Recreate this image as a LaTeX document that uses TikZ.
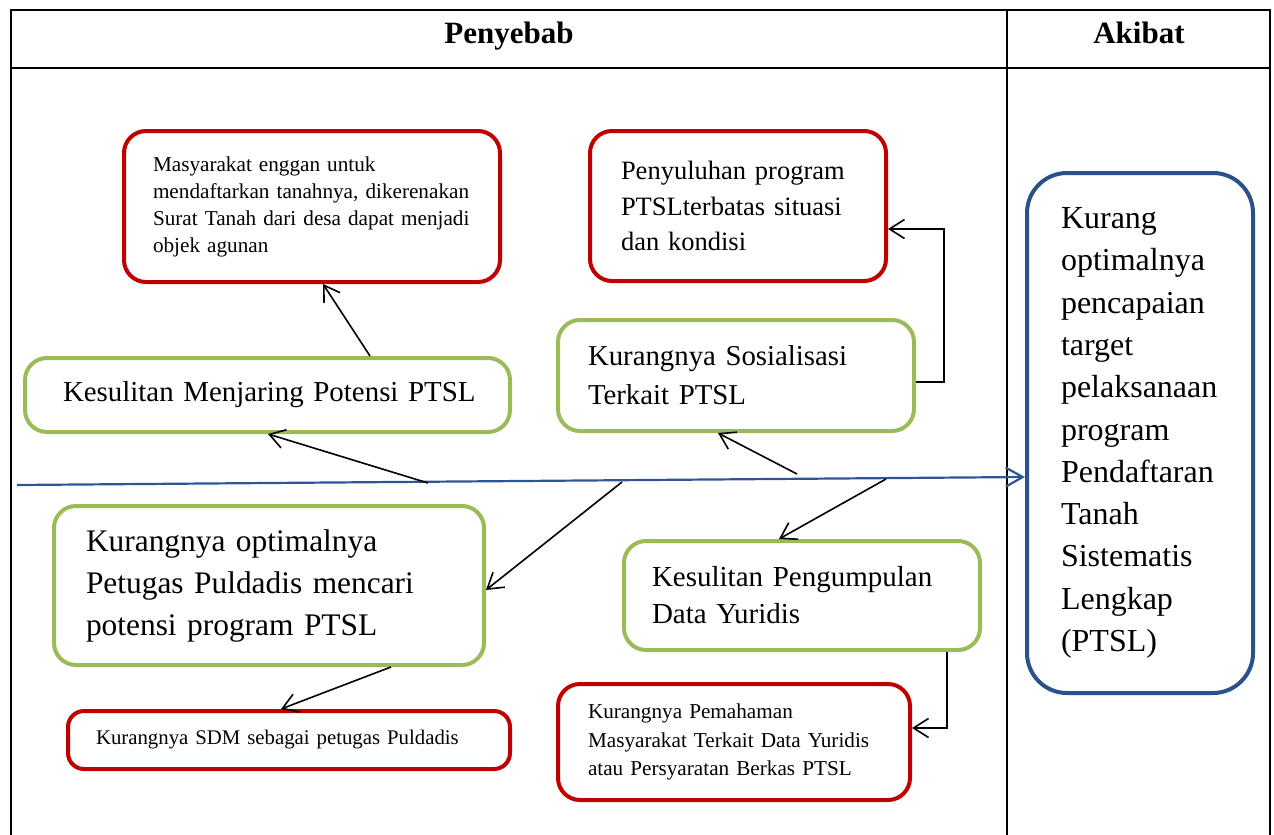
\documentclass[tikz,border=0pt]{standalone}
\usepackage{fontspec}
\setmainfont{Liberation Serif}
\usetikzlibrary{arrows.meta,calc}
\definecolor{cred}{HTML}{C00000}
\definecolor{cgreen}{HTML}{9BBB59}
\definecolor{cblue}{HTML}{2A5189}
\definecolor{cline}{HTML}{2F5597}
\tikzset{
  box/.style={draw, rounded corners=22pt, line width=4pt, align=left, anchor=center, inner ysep=0pt},
  redbox/.style={box, draw=cred},
  greenbox/.style={box, draw=cgreen},
  bluebox/.style={box, draw=cblue, rounded corners=40pt},
  arr/.style={draw=black, line width=1.6pt, -{Straight Barb[length=15pt,width=19pt]}},
  mainarr/.style={draw=cline, line width=2.2pt, -{Straight Barb[length=17pt,width=19pt]}},
  frame/.style={line width=2pt, draw=black},
  head/.style={font=\bfseries\fontsize{31}{31}\selectfont, anchor=base, inner sep=0pt}
}
\begin{document}
\begin{tikzpicture}[x=1pt,y=-1pt]
\useasboundingbox (0,0) rectangle (1274,835);
% table frame
\draw[frame] (11,845) -- (11,10) -- (1270,10) -- (1270,845);
\draw[frame] (11,68) -- (1270,68);
\draw[frame] (1007,10) -- (1007,845);
\node[head] (h1) at (509,43) {Penyebab};
\node[head] (h2) at (1139,43) {Akibat};

% boxes
\node[redbox, minimum height=151pt, text width=318pt, inner xsep=29pt,
  font=\fontsize{21.2}{27}\selectfont] (m1) at (312,206.5)
  {\mbox{Masyarakat enggan untuk}\\ \mbox{mendaftarkan tanahnya, dikerenakan}\\ \mbox{Surat Tanah dari desa dapat menjadi}\\ \mbox{objek agunan}};
\node[redbox, minimum height=150pt, text width=234pt, inner xsep=31pt,
  font=\fontsize{26.5}{35.5}\selectfont] (p2) at (738,206)
  {\mbox{Penyuluhan program}\\ \mbox{PTSLterbatas situasi}\\ \mbox{dan kondisi}};
\node[greenbox, align=center, minimum height=74pt, text width=409pt, inner xsep=38pt,
  font=\fontsize{28.9}{36}\selectfont] (k3) at (267.5,395)
  {\mbox{Kesulitan Menjaring Potensi PTSL}};
\node[greenbox, minimum height=111pt, text width=296pt, inner xsep=30pt,
  font=\fontsize{28.8}{39}\selectfont] (k4) at (736,375.5)
  {\mbox{Kurangnya Sosialisasi}\\ \mbox{Terkait PTSL}};
\node[greenbox, minimum height=159pt, text width=366pt, inner xsep=32pt,
  font=\fontsize{31.4}{42}\selectfont] (k5) at (269,585.5)
  {\mbox{Kurangnya optimalnya}\\ \mbox{Petugas Puldadis mencari}\\ \mbox{potensi program PTSL}};
\node[greenbox, minimum height=109pt, text width=300pt, inner xsep=28pt,
  font=\fontsize{29}{37}\selectfont] (k6) at (802,595.5)
  {\mbox{Kesulitan Pengumpulan}\\ \mbox{Data Yuridis}};
\node[redbox, rounded corners=16pt, minimum height=58pt, text width=386pt, inner xsep=28pt,
  font=\fontsize{20.8}{27}\selectfont] (r7) at (289,740)
  {\mbox{Kurangnya SDM sebagai petugas Puldadis}};
\node[redbox, minimum height=116pt, text width=292pt, inner xsep=30pt,
  font=\fontsize{21.2}{28.5}\selectfont] (r8) at (734,742)
  {\mbox{Kurangnya Pemahaman}\\ \mbox{Masyarakat Terkait Data Yuridis}\\ \mbox{atau Persyaratan Berkas PTSL}};
\node[bluebox, minimum height=520pt, text width=158pt, inner xsep=34pt,
  font=\fontsize{32}{42.3}\selectfont] (ak) at (1140,433)
  {Kurang\\ optimalnya\\ pencapaian\\ target\\ pelaksanaan\\ program\\ Pendaftaran\\ Tanah\\ Sistematis\\ Lengkap\\ (PTSL)};

% spine
\coordinate (s0) at (17,485);
\draw[mainarr] (s0) -- ([yshift=-44pt]ak.west);

% branch start points on the spine
\coordinate (b1) at (428,483);
\coordinate (b2) at (622,482);
\coordinate (b3) at (797,474);
\coordinate (b4) at (886,479);

\draw[arr] (b1) -- ([xshift=245pt]k3.south west);
\draw[arr] (b2) -- ([yshift=-4.5pt]k5.east);
\draw[arr] (b3) -- ([xshift=162pt]k4.south west);
\draw[arr] (b4) -- ([xshift=157pt]k6.north west);
\draw[arr] ([xshift=347pt]k3.north west) -- ([xshift=201pt]m1.south west);
\draw[arr] ([xshift=339pt]k5.south west) -- ([xshift=215pt]r7.north west);
\draw[arr] ([yshift=-6.5pt]k4.east) -- ++(28pt,0pt) |- ([yshift=-23pt]p2.east);
\draw[arr] ([xshift=-35pt]k6.south east) |- ([yshift=14pt]r8.east);
\end{tikzpicture}
\end{document}
